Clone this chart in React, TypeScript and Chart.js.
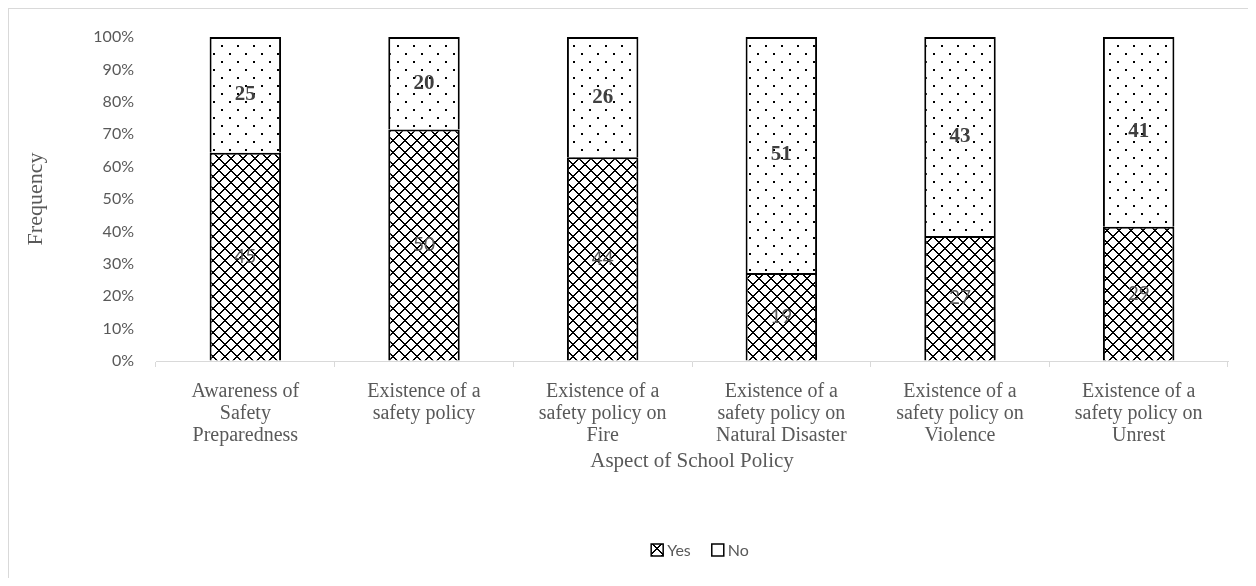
import { useEffect, useRef } from "react";
import { Chart, registerables } from "chart.js";
Chart.register(...registerables);

const categories: string[][] = [
  ["Awareness of", "Safety", "Preparedness"],
  ["Existence of a", "safety policy"],
  ["Existence of a", "safety policy on", "Fire"],
  ["Existence of a", "safety policy on", "Natural Disaster"],
  ["Existence of a", "safety policy on", "Violence"],
  ["Existence of a", "safety policy on", "Unrest"],
];
const yesCounts = [45, 50, 44, 19, 27, 29];
const noCounts = [25, 20, 26, 51, 43, 41];
const seriesNames = ["Yes", "No"];
const yMax = 100;
const yStep = 10;

function crossPattern(): CanvasPattern | string {
  const n = 12;
  const c = document.createElement("canvas");
  c.width = n;
  c.height = n;
  const g = c.getContext("2d");
  if (!g) return "#fff";
  g.fillStyle = "#fff";
  g.fillRect(0, 0, n, n);
  g.fillStyle = "#000";
  for (let y = 0; y < n; y++) {
    for (const off of [-n, 0, n]) {
      g.fillRect(y + off, y, 2, 1);
      g.fillRect(n - 1 - y + off - 1, y, 2, 1);
    }
  }
  return g.createPattern(c, "repeat") || "#fff";
}

function dotPattern(): CanvasPattern | string {
  const c = document.createElement("canvas");
  c.width = 16;
  c.height = 16;
  const g = c.getContext("2d");
  if (!g) return "#fff";
  g.fillStyle = "#fff";
  g.fillRect(0, 0, 16, 16);
  g.fillStyle = "#000";
  g.fillRect(4, 4, 2, 2);
  g.fillRect(12, 12, 2, 2);
  return g.createPattern(c, "repeat") || "#fff";
}

export default function App() {
  const ref = useRef<HTMLCanvasElement | null>(null);

  useEffect(() => {
    if (!ref.current) return;
    const totals = yesCounts.map((v, i) => v + noCounts[i]);
    const yesPct = yesCounts.map((v, i) => (v / totals[i]) * 100);
    const noPct = noCounts.map((v, i) => (v / totals[i]) * 100);
    const counts = [yesCounts, noCounts];

    const labelPlugin = {
      id: "barLabels",
      afterDatasetsDraw(chart: any) {
        const ctx = chart.ctx as CanvasRenderingContext2D;
        chart.data.datasets.forEach((_ds: any, di: number) => {
          const meta = chart.getDatasetMeta(di);
          meta.data.forEach((el: any, i: number) => {
            const p = el.getProps(["x", "y", "base"], true);
            const cy = (p.y + p.base) / 2;
            ctx.save();
            ctx.font = di === 0 ? "19px Lato" : "bold 21px 'Liberation Serif'";
            ctx.fillStyle = di === 0 ? "#595959" : "#404040";
            ctx.textAlign = "center";
            ctx.textBaseline = "middle";
            ctx.fillText(String(counts[di][i]), p.x, cy);
            ctx.restore();
          });
        });
      },
    };

    const legendPlugin = {
      id: "customLegend",
      afterDraw(chart: any) {
        const ctx = chart.ctx as CanvasRenderingContext2D;
        const area = chart.chartArea;
        const box = 12;
        const gap = 4;
        const itemGap = 21;
        ctx.save();
        ctx.font = "16px Lato";
        const widths = chart.data.datasets.map(
          (ds: any) => box + gap + ctx.measureText(ds.label).width
        );
        const total =
          widths.reduce((a: number, b: number) => a + b, 0) +
          itemGap * (widths.length - 1);
        let x = (area.left + area.right) / 2 + 8 - total / 2;
        const cy = chart.height - 28;
        chart.data.datasets.forEach((ds: any, i: number) => {
          ctx.fillStyle = ds.backgroundColor;
          ctx.fillRect(x, cy - box / 2, box, box);
          ctx.strokeStyle = "#000";
          ctx.lineWidth = 1.5;
          ctx.strokeRect(x, cy - box / 2, box, box);
          ctx.fillStyle = "#595959";
          ctx.textAlign = "left";
          ctx.textBaseline = "middle";
          ctx.fillText(ds.label, x + box + gap, cy + 1);
          x += widths[i] + itemGap;
        });
        ctx.restore();
      },
    };

    const chart = new Chart(ref.current, {
      type: "bar",
      data: {
        labels: categories,
        datasets: [
          {
            label: seriesNames[0],
            data: yesPct,
            backgroundColor: crossPattern() as any,
            borderColor: "#000",
            borderWidth: 2,
            barPercentage: 0.4,
            categoryPercentage: 1,
          },
          {
            label: seriesNames[1],
            data: noPct,
            backgroundColor: dotPattern() as any,
            borderColor: "#000",
            borderWidth: 2,
            barPercentage: 0.4,
            categoryPercentage: 1,
          },
        ],
      },
      options: {
        animation: false,
        responsive: true,
        maintainAspectRatio: false,
        layout: { padding: { left: 0, right: 20, top: 28, bottom: 0 } },
        plugins: {
          tooltip: { enabled: false },
          legend: { display: false },
        },
        scales: {
          x: {
            stacked: true,
            afterFit: (s: any) => {
              s.height = 217;
            },
            grid: {
              display: true,
              drawOnChartArea: false,
              drawTicks: true,
              tickLength: 6,
              color: "#d9d9d9",
              offset: true,
            },
            border: { display: true, color: "#d9d9d9", width: 1 },
            ticks: {
              autoSkip: false,
              maxRotation: 0,
              minRotation: 0,
              padding: 14,
              color: "#595959",
              font: { family: "'Liberation Serif'", size: 20, lineHeight: 1.1 },
            },
            title: {
              display: true,
              text: "Aspect of School Policy",
              color: "#595959",
              font: { family: "'Liberation Serif'", size: 21 },
              padding: { top: 4, bottom: 104 },
            },
          },
          y: {
            stacked: true,
            min: 0,
            max: yMax,
            afterFit: (s: any) => {
              s.width = 147;
            },
            grid: {
              display: true,
              drawOnChartArea: false,
              drawTicks: true,
              tickLength: 22,
              color: "rgba(0,0,0,0)",
            },
            border: { display: false },
            ticks: {
              stepSize: yStep,
              padding: 0,
              color: "#595959",
              font: { family: "Lato", size: 16 },
              callback: (v: any) => v + "%",
            },
            title: {
              display: true,
              text: "Frequency",
              color: "#595959",
              font: { family: "'Liberation Serif'", size: 22 },
              padding: { top: 14, bottom: 0 },
            },
          },
        },
      },
      plugins: [labelPlugin, legendPlugin],
    });
    return () => chart.destroy();
  }, []);

  return (
    <div
      style={{
        width: 1239,
        height: 569,
        borderTop: "1px solid #d9d9d9",
        borderLeft: "1px solid #d9d9d9",
        background: "#fff",
      }}
    >
      <div style={{ position: "relative", width: 1239, height: 569 }}>
        <canvas ref={ref} />
      </div>
    </div>
  );
}
